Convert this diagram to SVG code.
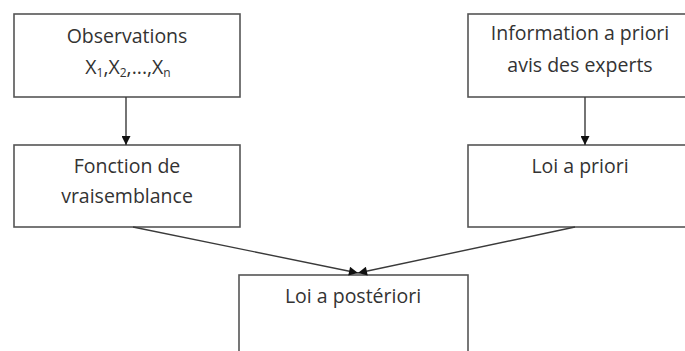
<svg xmlns="http://www.w3.org/2000/svg" width="685" height="351" viewBox="0 0 685 351">
<style>
.box{fill:#fff;stroke:#555;stroke-width:1.6}
.t{font-family:"Open Sans","Liberation Sans",sans-serif;font-size:19.5px;fill:#333;text-anchor:middle}
.c{stroke:#3a3a3a;stroke-width:1.4;fill:none}
</style>
<defs>
<marker id="ah" viewBox="0 0 10 10" refX="10" refY="5" markerWidth="10" markerHeight="9" markerUnits="userSpaceOnUse" orient="auto">
<path d="M0,0 L10,5 L0,10 z" fill="#111"/>
</marker>
</defs>
<rect width="685" height="351" fill="#fff"/>
<g id="observations">
<rect class="box" x="14" y="14" width="226" height="83"/>
<text class="t" x="127" y="43">Observations</text>
<text class="t" x="128" y="74">X<tspan font-size="12" dy="3">1</tspan><tspan dy="-3">,X</tspan><tspan font-size="12" dy="3">2</tspan><tspan dy="-3">,...,X</tspan><tspan font-size="12" dy="3">n</tspan></text>
</g>
<g id="information">
<rect class="box" x="468" y="14" width="224" height="83"/>
<text class="t" x="580" y="40">Information a priori</text>
<text class="t" x="580" y="72">avis des experts</text>
</g>
<g id="vraisemblance">
<rect class="box" x="14" y="145" width="226" height="82"/>
<text class="t" x="127" y="173">Fonction de</text>
<text class="t" x="127" y="203">vraisemblance</text>
</g>
<g id="loi-priori">
<rect class="box" x="468" y="145" width="224" height="82"/>
<text class="t" x="580" y="173">Loi a priori</text>
</g>
<g id="loi-posteriori">
<rect class="box" x="239" y="275" width="229" height="90"/>
<text class="t" x="353" y="303">Loi a postériori</text>
</g>
<g id="connectors">
<line class="c" x1="126" y1="97" x2="126" y2="145" marker-end="url(#ah)"/>
<line class="c" x1="585" y1="97" x2="585" y2="145" marker-end="url(#ah)"/>
<line class="c" x1="133" y1="227" x2="358" y2="273" marker-end="url(#ah)"/>
<line class="c" x1="575" y1="227" x2="358" y2="273" marker-end="url(#ah)"/>
</g>
</svg>
